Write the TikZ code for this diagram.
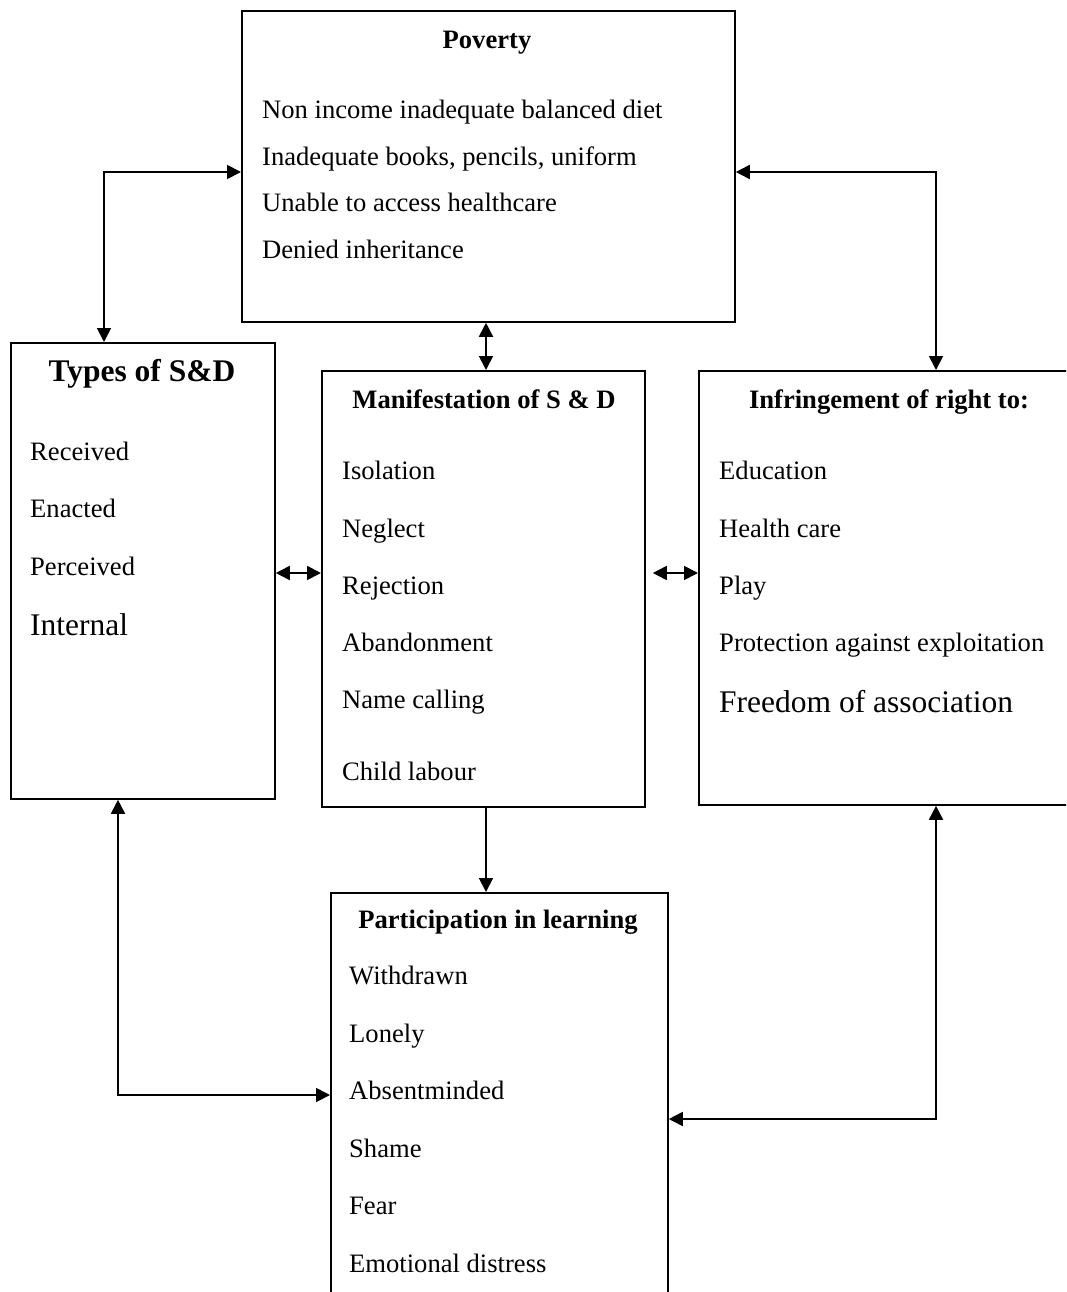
\documentclass[tikz,border=0pt]{standalone}
\usepackage{fontspec}
\setmainfont{Liberation Serif}
\usepackage{tikz}
\usetikzlibrary{arrows.meta,positioning,calc}

\tikzset{
  box/.style={draw, line width=1.8pt, anchor=north west, inner sep=0pt},
  item/.style={anchor=west, inner sep=0pt, text height=21pt, text depth=0pt,
    font=\fontsize{26.6}{32}\selectfont},
  bigitem/.style={item, font=\fontsize{31.5}{38}\selectfont},
  head/.style={inner sep=0pt, text height=21pt, text depth=0pt,
    font=\fontsize{26.6}{32}\selectfont\bfseries},
  bighead/.style={head, font=\fontsize{31.5}{38}\selectfont\bfseries},
  link/.style={line width=1.8pt, {Triangle[length=14pt,width=14pt]}-{Triangle[length=14pt,width=14pt]}},
  onelink/.style={line width=1.8pt, -{Triangle[length=14pt,width=14pt]}}
}

\begin{document}
\begin{tikzpicture}[x=1pt, y=-1pt]
\useasboundingbox (0,0) rectangle (1066,1292);
\clip (0,0) rectangle (1066,1292);

% Poverty
\node[box, minimum width=493pt, minimum height=311pt] (pov) at (241,10) {};
\node[head] (povt) at (487,38) {Poverty};
\foreach \t/\y [count=\i] in {Non income inadequate balanced diet/108,
    {Inadequate books, pencils, uniform}/155,
    Unable to access healthcare/201, Denied inheritance/248}
  \node[item] (pov\i) at (262,\y) {\t};

% Types of S&D
\node[box, minimum width=264pt, minimum height=456pt] (types) at (10,342) {};
\node[bighead] (typest) at (142,371) {Types of S\&D};
\foreach \t/\y [count=\i] in {Received/450, Enacted/507, Perceived/565}
  \node[item] (types\i) at (30,\y) {\t};
\node[bigitem] (types4) at (30,625) {Internal};

% Manifestation
\node[box, minimum width=323pt, minimum height=436pt] (man) at (321,370) {};
\node[head] (mant) at (484,398) {Manifestation of S \& D};
\foreach \t/\y [count=\i] in {Isolation/469, Neglect/527, Rejection/584,
    Abandonment/641, Name calling/698, Child labour/770}
  \node[item] (man\i) at (342,\y) {\t};

% Infringement (runs off the right edge)
\node[box, minimum width=420pt, minimum height=434pt] (infr) at (698,370) {};
\node[head] (infrt) at (889,398) {Infringement of right to:};
\foreach \t/\y [count=\i] in {Education/469, Health care/527, Play/584,
    Protection against exploitation/641}
  \node[item] (infr\i) at (719,\y) {\t};
\node[bigitem] (infr5) at (719,702) {Freedom of association};

% Participation (runs off the bottom edge)
\node[box, minimum width=337pt, minimum height=450pt] (part) at (330,892) {};
\node[head] (partt) at (498,918) {Participation in learning};
\foreach \t/\y [count=\i] in {Withdrawn/974, Lonely/1032, Absentminded/1089,
    Shame/1147, Fear/1204, Emotional distress/1262}
  \node[item] (part\i) at (349,\y) {\t};

% Links
\draw[link] (pov.west |- 0,172) -| (types.north -| 104,0);
\draw[link] (pov.east |- 0,172) -| (infr.north -| 936,0);
\draw[link] (pov.south -| 486,0) -- (man.north -| 486,0);
\draw[link] (types.east |- 0,573) -- (man.west |- 0,573);
\draw[link, shorten <=7pt] (man.east |- 0,573) -- (infr.west |- 0,573);
\draw[onelink] (man.south -| 486,0) -- (part.north -| 486,0);
\draw[link] (types.south -| 118,0) |- (part.west |- 0,1095);
\draw[link] (infr.south -| 936,0) |- (part.east |- 0,1119);
\end{tikzpicture}
\end{document}
